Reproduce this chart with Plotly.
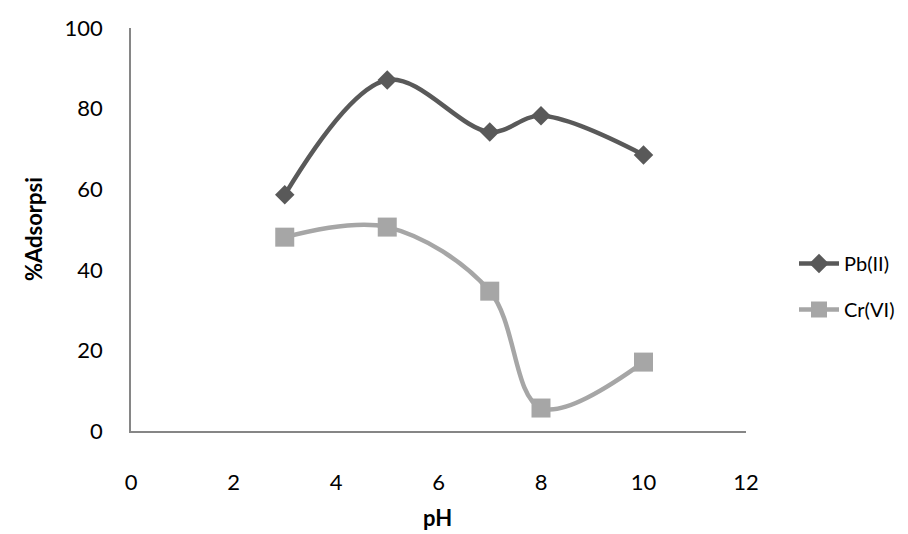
import plotly.graph_objects as go

ph = [3, 5, 7, 8, 10]
pb_values = [58.6, 87.1, 74.2, 78.2, 68.5]
cr_values = [48.1, 50.6, 34.7, 5.7, 17.1]
x_ticks = [0, 2, 4, 6, 8, 10, 12]
y_ticks = [0, 20, 40, 60, 80, 100]

FONT = "Lato, 'Open Sans', sans-serif"
W, H = 908, 534
L, R, T, B = 123, 170, 20, 111
PW, PH = W - L - R, H - T - B


def px_x(x):
    return (x - L) / PW


def px_y(y):
    return (H - B - y) / PH


fig = go.Figure()
fig.add_trace(go.Scatter(
    x=ph, y=pb_values, name="Pb(II)", mode="lines+markers",
    line=dict(color="#595959", width=4.5, shape="spline", smoothing=1),
    marker=dict(symbol="diamond", size=15, color="#595959"),
    legendgroup="pb",
))
fig.add_trace(go.Scatter(
    x=ph, y=cr_values, name="Cr(VI)", mode="lines+markers",
    line=dict(color="#a6a6a6", width=4.5, shape="spline", smoothing=1),
    marker=dict(symbol="square", size=19, color="#a6a6a6"),
    legendgroup="cr",
))

fig.update_layout(
    width=W, height=H,
    margin=dict(l=L, r=R, t=T, b=B, autoexpand=False),
    paper_bgcolor="white", plot_bgcolor="white",
    font=dict(family=FONT, size=22, color="#000000"),
    showlegend=True,
    legend=dict(x=px_x(786), y=px_y(278.5), xanchor="left", yanchor="middle",
                font=dict(size=20), tracegroupgap=17, itemwidth=40,
                bgcolor="rgba(0,0,0,0)"),
    xaxis=dict(range=[0, 12], tickvals=x_ticks, showgrid=False, zeroline=False,
               showline=True, linecolor="#868686", linewidth=1.5,
               ticks="", ticklabelstandoff=31, tickfont=dict(size=22)),
    yaxis=dict(range=[0, 100], tickvals=y_ticks, showgrid=False, zeroline=False,
               showline=True, linecolor="#868686", linewidth=1.5,
               ticks="", ticklabelstandoff=22, tickfont=dict(size=22)),
    annotations=[
        dict(text="<b>pH</b>", x=px_x(429), y=px_y(510), xref="paper", yref="paper",
             xanchor="center", yanchor="middle", showarrow=False, font=dict(size=22)),
        dict(text="<b>%Adsorpsi</b>", x=px_x(25), y=px_y(221), textangle=-90,
             xanchor="center", yanchor="middle",
             xref="paper", yref="paper", showarrow=False, font=dict(size=22)),
    ],
)

fig.write_html("out.html")
